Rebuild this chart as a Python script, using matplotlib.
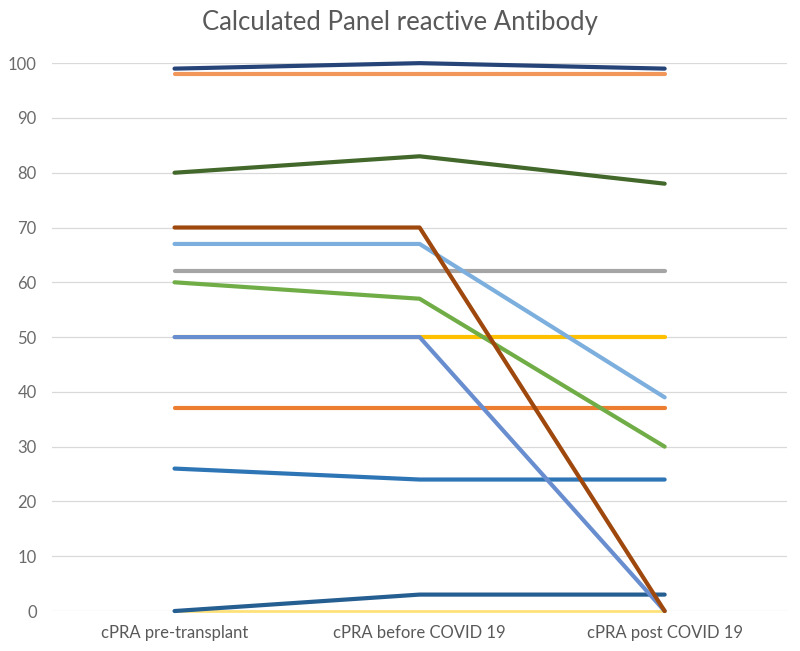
import matplotlib
matplotlib.use("Agg")
import matplotlib.pyplot as plt

plt.rcParams['font.family'] = ['Lato', 'DejaVu Sans']

categories = ['cPRA pre-transplant', 'cPRA before COVID 19', 'cPRA post COVID 19']

# one list per patient, drawn in this order (later ones on top)
light_yellow = [0, 0, 0]
dark_teal = [0, 3, 3]
orange = [37, 37, 37]
blue = [26, 24, 24]
gray = [62, 62, 62]
yellow = [50, 50, 50]
light_blue = [67, 67, 39]
green = [60, 57, 30]
steel_blue = [50, 50, 0]
brown = [70, 70, 0]
dark_green = [80, 83, 78]
tan = [98, 98, 98]
navy = [99, 100, 99]

series = [
    (light_yellow, '#FFE17A', 2.0),
    (dark_teal, '#255E91', 3.0),
    (orange, '#ED7D31', 3.0),
    (blue, '#2E75B6', 3.0),
    (gray, '#A5A5A5', 3.0),
    (yellow, '#FFC000', 3.0),
    (light_blue, '#7CAFDD', 3.0),
    (green, '#70AD47', 3.0),
    (steel_blue, '#698ED0', 3.0),
    (brown, '#9E480E', 3.0),
    (dark_green, '#43682B', 3.0),
    (tan, '#F1975A', 3.0),
    (navy, '#264478', 3.0),
]

fig = plt.figure(figsize=(8, 6.51), dpi=100)
ax = fig.add_axes([0.065, 0.0614, 0.919, 0.8416])

x = range(len(categories))
for vals, col, lw in series:
    ax.plot(x, vals, color=col, lw=lw, solid_capstyle='round',
            solid_joinstyle='round', clip_on=False)

ax.set_xlim(-0.5, 2.5)
ax.set_ylim(0, 100)
ax.set_yticks(range(0, 101, 10))
ax.set_xticks(list(x))
ax.set_xticklabels(categories)
ax.grid(axis='y', color='#D9D9D9', lw=0.9)
ax.set_axisbelow(True)
for s in ax.spines.values():
    s.set_visible(False)
ax.tick_params(length=0, labelsize=12, labelcolor='#595959')
ax.tick_params(axis='x', pad=10)
ax.tick_params(axis='y', pad=11, labelcolor='#6b6b6b')

fig.text(0.5, 0.966, 'Calculated Panel reactive Antibody', ha='center', va='center',
         fontsize=18.5, color='#595959')

fig.savefig('out.png')
